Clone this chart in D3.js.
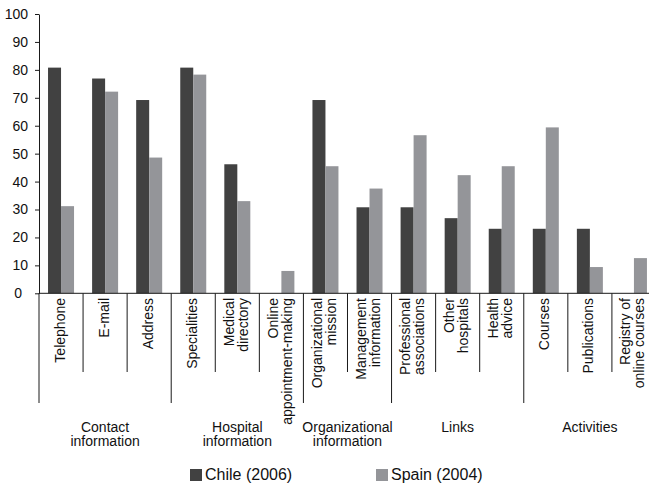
<!DOCTYPE html>
<html lang="en">
<head>
<meta charset="UTF-8">
<title>Hospital websites: Chile vs Spain</title>
<script src="https://d3js.org/d3.v7.min.js"></script>
<style>
    body { margin: 0; background: #fff; }
    svg { display: block; font-family: "Liberation Sans", Arial, Helvetica, sans-serif; }
    .axis path, .axis line { stroke: #1a1a1a; }
    .axis text { font-size: 14px; fill: #111; }
    .sep { stroke: #1a1a1a; stroke-width: 1px; }
    .cat { font-size: 14px; fill: #111; }
    .group { font-size: 14px; fill: #111; }
    .legend { font-size: 16px; fill: #111; }
</style>
</head>
<body>
<div id="chart"></div>
<script>
    // categories, "\n" marks a line break in the label
    var categories = [
        "Telephone", "E-mail", "Address",
        "Specialities", "Medical\ndirectory", "Online\nappointment-making",
        "Organizational\nmission", "Management\ninformation",
        "Professional\nassociations", "Other\nhospitals", "Health\nadvice",
        "Courses", "Publications", "Registry of\nonline courses"
    ];
    var groups = ["Contact\ninformation", "Hospital\ninformation", "Organizational\ninformation", "Links", "Activities"];
    var groupSizes = [3, 3, 2, 3, 3];

    var seriesNames = ["Chile (2006)", "Spain (2004)"];
    var seriesColors = ["#414141", "#949599"];
    var chile = [80.8, 76.9, 69.2, 80.8, 46.2, 0, 69.2, 30.8, 30.8, 26.9, 23.1, 23.1, 23.1, 0];
    var spain = [31.2, 72.2, 48.6, 78.3, 33.0, 8.0, 45.5, 37.5, 56.6, 42.3, 45.5, 59.4, 9.4, 12.6];

    var yTicks = [0, 10, 20, 30, 40, 50, 60, 70, 80, 90, 100];

    var width = 649, height = 486;
    var left = 39, band = 44.07;

    var svg = d3.select("#chart").append("svg")
        .attr("width", width)
        .attr("height", height);

    var x = d3.scaleBand()
        .domain(categories)
        .range([left, left + band * categories.length])
        .paddingInner(0).paddingOuter(0);

    var x1 = d3.scaleBand()
        .domain(seriesNames)
        .range([x.bandwidth() / 2 - 13, x.bandwidth() / 2 + 13]);

    var y = d3.scaleLinear()
        .domain([0, 100])
        .range([293.3, 14]);

    var rows = categories.map(function (c, i) {
        return { cat: c, values: [chile[i], spain[i]] };
    });

    // bars
    var g = svg.selectAll(".cat-g")
        .data(rows)
        .enter().append("g")
        .attr("transform", d => `translate(${x(d.cat)},0)`);

    g.selectAll("rect")
        .data(d => d.values.map((v, j) => ({ s: seriesNames[j], v: v, j: j })))
        .enter().append("rect")
        .attr("x", d => x1(d.s))
        .attr("width", x1.bandwidth())
        .attr("y", d => y(d.v))
        .attr("height", d => y(0) - y(d.v))
        .attr("fill", d => seriesColors[d.j]);

    // y axis
    var yAxis = svg.append("g")
        .attr("class", "axis")
        .attr("transform", `translate(${left},0)`)
        .call(d3.axisLeft(y).tickValues(yTicks).tickSize(4).tickSizeOuter(0).tickPadding(7));
    yAxis.selectAll("text").attr("dx", d => d === 0 ? -6 : 0);

    // x axis baseline
    svg.append("line")
        .attr("class", "sep")
        .attr("x1", left).attr("x2", x.range()[1])
        .attr("y1", y(0)).attr("y2", y(0));

    // separators between categories, longer ones at group boundaries
    var groupEdges = [0];
    groupSizes.reduce(function (acc, n) { groupEdges.push(acc + n); return acc + n; }, 0);
    d3.range(categories.length + 1).forEach(function (i) {
        var xx = left + band * i;
        svg.append("line")
            .attr("class", "sep")
            .attr("x1", xx).attr("x2", xx)
            .attr("y1", y(0))
            .attr("y2", groupEdges.indexOf(i) >= 0 ? 403 : 372);
    });

    // rotated category labels
    var lineH = 14;
    categories.forEach(function (c) {
        var lines = c.split("\n");
        var cx = x(c) + x.bandwidth() / 2;
        var t = svg.append("text")
            .attr("class", "cat")
            .attr("text-anchor", "end")
            .attr("transform", `translate(${cx},298) rotate(-90)`);
        lines.forEach(function (l, i) {
            t.append("tspan")
                .attr("x", 0)
                .attr("y", (i - (lines.length - 1) / 2) * lineH + 3.5)
                .text(l);
        });
    });

    // group labels
    groups.forEach(function (gName, k) {
        var x0 = left + band * groupEdges[k];
        var x2 = left + band * groupEdges[k + 1];
        var t = svg.append("text")
            .attr("class", "group")
            .attr("text-anchor", "middle")
            .attr("x", (x0 + x2) / 2)
            .attr("y", 432);
        gName.split("\n").forEach(function (l, i) {
            t.append("tspan")
                .attr("x", (x0 + x2) / 2)
                .attr("dy", i === 0 ? 0 : 14)
                .text(l);
        });
    });

    // legend
    var legendX = [190, 376];
    seriesNames.forEach(function (s, j) {
        svg.append("rect")
            .attr("x", legendX[j]).attr("y", 469)
            .attr("width", 12).attr("height", 12)
            .attr("fill", seriesColors[j]);
        svg.append("text")
            .attr("class", "legend")
            .attr("x", legendX[j] + 15)
            .attr("y", 480)
            .text(s);
    });
</script>
</body>
</html>
